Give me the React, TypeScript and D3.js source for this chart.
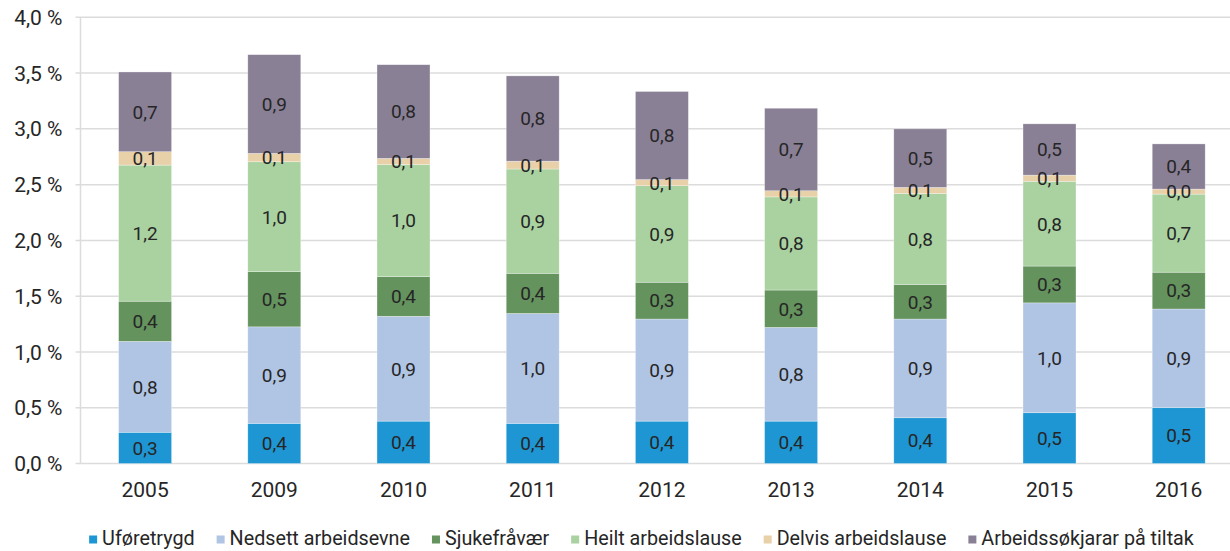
import React, { useEffect, useRef } from "react";
import * as d3 from "d3";

const years = ["2005", "2009", "2010", "2011", "2012", "2013", "2014", "2015", "2016"];
const seriesNames = [
  "Uføretrygd",
  "Nedsett arbeidsevne",
  "Sjukefråvær",
  "Heilt arbeidslause",
  "Delvis arbeidslause",
  "Arbeidssøkjarar på tiltak",
];
const uforetrygd = [0.28, 0.36, 0.38, 0.36, 0.38, 0.38, 0.41, 0.455, 0.5];
const nedsett = [0.815, 0.865, 0.94, 0.985, 0.915, 0.84, 0.885, 0.985, 0.885];
const sjukefravaer = [0.36, 0.495, 0.355, 0.36, 0.33, 0.335, 0.31, 0.33, 0.33];
const heilt = [1.22, 0.985, 1.005, 0.935, 0.865, 0.835, 0.815, 0.76, 0.7];
const delvis = [0.12, 0.075, 0.055, 0.07, 0.055, 0.055, 0.055, 0.055, 0.045];
const tiltak = [0.715, 0.885, 0.84, 0.765, 0.79, 0.74, 0.525, 0.46, 0.405];
const yTicks = [0, 0.5, 1, 1.5, 2, 2.5, 3, 3.5, 4];
const colors = ["#1E96D3", "#B0C4E4", "#64935D", "#A9D2A0", "#E8D0A9", "#8A8096"];

const W = 1230;
const H = 551;
const FONT = "Roboto, 'Noto Sans', sans-serif";

export default function App() {
  const ref = useRef<SVGSVGElement>(null);
  useEffect(() => {
    const svg = d3.select(ref.current);
    svg.selectAll("*").remove();
    const seriesValues = [uforetrygd, nedsett, sjukefravaer, heilt, delvis, tiltak];
    const rows = years.map((y, i) => {
      const r: any = { year: y };
      seriesNames.forEach((s, k) => (r[s] = seriesValues[k][i]));
      return r;
    });
    const stack = d3.stack().keys(seriesNames)(rows);

    const x = d3.scaleBand().domain(years).range([80.5, 1243.3]).paddingInner(0.59).paddingOuter(0.295);
    const y = d3.scaleLinear().domain([0, 4]).range([463.5, 17.3]);
    const fmt = (v: number) => v.toFixed(1).replace(".", ",");

    // grid
    const g = svg.append("g");
    g.selectAll("line.grid")
      .data(yTicks)
      .join("line")
      .attr("x1", 75.5)
      .attr("x2", W)
      .attr("y1", (d) => y(d))
      .attr("y2", (d) => y(d))
      .attr("stroke", "#DCDCDC")
      .attr("stroke-width", 1.5);
    g.append("line")
      .attr("x1", 80.5)
      .attr("x2", 80.5)
      .attr("y1", y(4))
      .attr("y2", y(0))
      .attr("stroke", "#DCDCDC")
      .attr("stroke-width", 1.5);

    g.selectAll("text.ytick")
      .data(yTicks)
      .join("text")
      .attr("x", 62.5)
      .attr("y", (d) => y(d))
      .attr("dy", "0.36em")
      .attr("text-anchor", "end")
      .attr("font-family", FONT)
      .attr("font-size", 21)
      .attr("fill", "#262626")
      .text((d) => fmt(d) + " %");

    g.selectAll("text.xtick")
      .data(years)
      .join("text")
      .attr("x", (d) => (x(d) as number) + x.bandwidth() / 2)
      .attr("y", 497)
      .attr("text-anchor", "middle")
      .attr("font-family", FONT)
      .attr("font-size", 21)
      .attr("fill", "#262626")
      .text((d) => d);

    // bars
    stack.forEach((layer, k) => {
      const lg = svg.append("g");
      lg.selectAll("rect")
        .data(layer)
        .join("rect")
        .attr("x", (d: any) => x(d.data.year) as number)
        .attr("width", x.bandwidth())
        .attr("y", (d: any) => y(d[1]))
        .attr("height", (d: any) => y(d[0]) - y(d[1]))
        .attr("fill", colors[k])
        .attr("stroke", "#ffffff")
        .attr("stroke-opacity", 0.5)
        .attr("stroke-width", 0.6);
    });
    stack.forEach((layer, k) => {
      const lg = svg.append("g");
      lg.selectAll("text")
        .data(layer)
        .join("text")
        .attr("x", (d: any) => (x(d.data.year) as number) + x.bandwidth() / 2)
        .attr("y", (d: any) => (y(d[0]) + y(d[1])) / 2)
        .attr("dy", "0.36em")
        .attr("text-anchor", "middle")
        .attr("font-family", FONT)
        .attr("font-size", 19)
        .attr("fill", "#262626")
        .text((d: any) => fmt(d[1] - d[0]));
    });

    // legend
    const leg = svg.append("g");
    const sx = 0.94;
    const items = seriesNames.map((name, k) => {
      const it = leg.append("g");
      it.append("rect").attr("width", 8).attr("height", 8).attr("y", -9.5).attr("fill", colors[k]);
      const t = it
        .append("text")
        .attr("x", 13 / sx)
        .attr("y", 0)
        .attr("transform", `scale(${sx},1)`)
        .attr("font-family", FONT)
        .attr("font-size", 21)
        .attr("fill", "#262626")
        .text(name);
      const w = (t.node() as SVGTextElement).getComputedTextLength() * sx;
      return { it, w: 13 + w };
    });
    const gap = 22;
    const total = d3.sum(items, (d) => d.w) + gap * (items.length - 1);
    let cx = 641.5 - total / 2;
    items.forEach((d) => {
      d.it.attr("transform", `translate(${cx},${545})`);
      cx += d.w + gap;
    });
  }, []);
  return (
    <svg
      ref={ref}
      width={W}
      height={H}
      style={{ position: "absolute", left: 0, top: 0, background: "#fff" }}
    />
  );
}
